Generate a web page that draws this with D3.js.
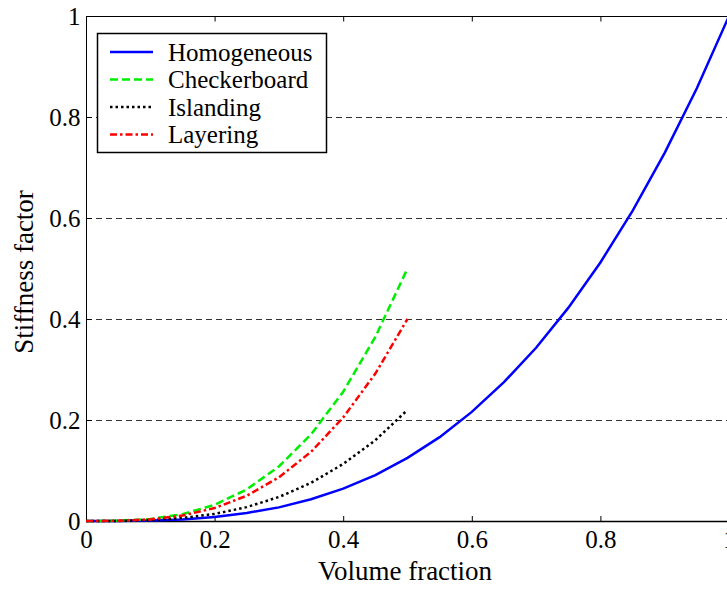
<!DOCTYPE html>
<html>
<head>
<meta charset="UTF-8">
<title>Stiffness factor vs volume fraction</title>
<script src="https://d3js.org/d3.v7.min.js"></script>
<style>
  body { margin: 0; background: #fff; }
  svg text { font-family: "Liberation Serif", "Times New Roman", serif; fill: #000; }
</style>
</head>
<body>
<div id="chart"></div>
<script>
// data
var xFull = [0, 0.05, 0.1, 0.15, 0.2, 0.25, 0.3, 0.35, 0.4, 0.45, 0.5,
             0.55, 0.6, 0.65, 0.7, 0.75, 0.8, 0.85, 0.9, 0.95, 1];
var xHalf = [0, 0.05, 0.1, 0.15, 0.2, 0.25, 0.3, 0.35, 0.4, 0.45, 0.5];
var homogeneous = [0, 0.0001, 0.001, 0.003, 0.008, 0.016, 0.027, 0.043, 0.064, 0.091, 0.125,
                   0.166, 0.216, 0.275, 0.343, 0.422, 0.512, 0.614, 0.729, 0.857, 1];
var checkerboard = [0, 0.0005, 0.004, 0.0135, 0.032, 0.0625, 0.108, 0.1715, 0.256, 0.3645, 0.5];
var islanding = [0, 0.0002, 0.0018, 0.006, 0.014, 0.0275, 0.0475, 0.0755, 0.113, 0.16, 0.22];
var layering = [0, 0.0004, 0.0032, 0.0108, 0.0256, 0.05, 0.0864, 0.137, 0.205, 0.292, 0.4];
var xTicks = [0, 0.2, 0.4, 0.6, 0.8, 1];
var yTicks = [0, 0.2, 0.4, 0.6, 0.8, 1];
var gridTicks = [0.2, 0.4, 0.6, 0.8];

var series = [
  {name: "Homogeneous", x: xFull, y: homogeneous, color: "#0000ff", dash: null, width: 2.5},
  {name: "Checkerboard", x: xHalf, y: checkerboard, color: "#00ee00", dash: "8,4", width: 2.5},
  {name: "Islanding", x: xHalf, y: islanding, color: "#000000", dash: "2.5,3", width: 2.5},
  {name: "Layering", x: xHalf, y: layering, color: "#ff0000", dash: "7,3,2.5,3", width: 2.5}
];

var width = 727, height = 589;
var m = {left: 86, right: 729, top: 16, bottom: 521};
var serif = "'Liberation Serif', 'Times New Roman', serif";

var svg = d3.select("#chart").append("svg")
    .attr("width", width)
    .attr("height", height);

var x = d3.scaleLinear().domain([0, 1]).range([m.left, m.right]);
var y = d3.scaleLinear().domain([0, 1]).range([m.bottom, m.top]);

// grid
svg.append("g")
   .selectAll("line")
   .data(gridTicks)
   .enter()
   .append("line")
   .attr("x1", m.left).attr("x2", m.right)
   .attr("y1", function(d) { return Math.round(y(d)) + 0.5; })
   .attr("y2", function(d) { return Math.round(y(d)) + 0.5; })
   .attr("stroke", "#333")
   .attr("stroke-width", 1)
   .attr("stroke-dasharray", "6,4");

// frame
svg.append("rect")
   .attr("x", m.left + 0.5).attr("y", m.top + 0.5)
   .attr("width", m.right - m.left).attr("height", m.bottom - m.top)
   .attr("fill", "none")
   .attr("stroke", "#000")
   .attr("stroke-width", 1);

// axes, ticks inward
var xAxis = d3.axisBottom(x).tickValues(xTicks).tickSizeInner(-5).tickSizeOuter(0)
    .tickFormat(function(d) { return d3.format("")(d); });
var gx = svg.append("g")
   .attr("transform", "translate(0," + m.bottom + ")")
   .call(xAxis);
gx.select(".domain").attr("stroke-width", 1.5);
gx.selectAll(".tick text").attr("y", 27).attr("dy", 0);

var xTop = d3.axisTop(x).tickValues(xTicks).tickSizeInner(-5).tickSizeOuter(0).tickFormat("");
svg.append("g")
   .attr("transform", "translate(0," + (m.top + 0.5) + ")")
   .call(xTop)
   .select(".domain").remove();

var yAxis = d3.axisLeft(y).tickValues(yTicks).tickSizeInner(-5).tickSizeOuter(0).tickPadding(6)
    .tickFormat(function(d) { return d3.format("")(d); });
var gy = svg.append("g")
   .attr("transform", "translate(" + (m.left + 0.5) + ",0)")
   .call(yAxis);
gy.select(".domain").remove();
gy.selectAll(".tick text").attr("dy", "0.35em");

svg.selectAll(".tick text")
   .style("font-family", serif)
   .style("font-size", "25px")
   .attr("fill", "#000");

// lines
var line = d3.line()
    .x(function(d) { return x(d[0]); })
    .y(function(d) { return y(d[1]); });

series.forEach(function(s) {
  svg.append("path")
     .attr("d", line(d3.zip(s.x, s.y)))
     .attr("fill", "none")
     .attr("stroke", s.color)
     .attr("stroke-width", s.width)
     .attr("stroke-dasharray", s.dash);
});

// axis titles
svg.append("text")
   .attr("x", 405).attr("y", 580)
   .attr("text-anchor", "middle")
   .style("font-family", serif)
   .style("font-size", "27px")
   .text("Volume fraction");

svg.append("text")
   .attr("transform", "translate(33,272) rotate(-90)")
   .attr("text-anchor", "middle")
   .style("font-family", serif)
   .style("font-size", "27px")
   .text("Stiffness factor");

// legend
var legend = svg.append("g");
legend.append("rect")
   .attr("x", 97.5).attr("y", 33.5)
   .attr("width", 229).attr("height", 119)
   .attr("fill", "#fff")
   .attr("stroke", "#000")
   .attr("stroke-width", 1.5);

series.forEach(function(s, i) {
  var ly = 52 + i * 27.5;
  legend.append("line")
     .attr("x1", 110).attr("x2", 153)
     .attr("y1", ly).attr("y2", ly)
     .attr("stroke", s.color)
     .attr("stroke-width", s.width)
     .attr("stroke-dasharray", s.dash);
  legend.append("text")
     .attr("x", 168).attr("y", ly)
     .attr("dy", "0.35em")
     .style("font-family", serif)
     .style("font-size", "25px")
     .text(s.name);
});
</script>
</body>
</html>
